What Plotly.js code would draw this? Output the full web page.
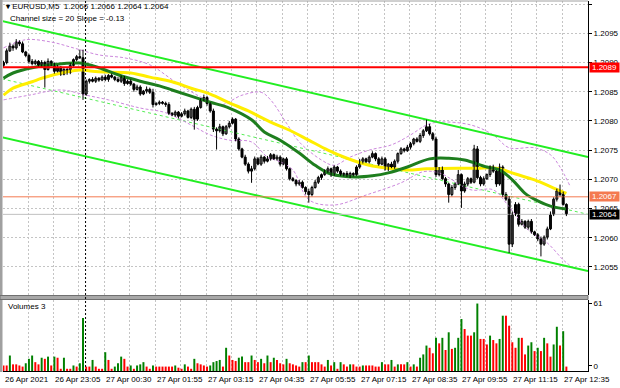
<!DOCTYPE html>
<html><head><meta charset="utf-8">
<script src="https://cdn.plot.ly/plotly-3.0.1.min.js"></script>
<style>html,body{margin:0;padding:0;background:#fff;}#chart{width:620px;height:388px;}</style>
</head><body><div id="chart"></div>
<script>
// ---------- DATA ----------
const firstOpen = 1.20895;
const closes = [
1.20900,1.20920,1.20928,1.20925,1.20935,1.20932,1.20918,1.20912,1.20902,1.20898,
1.20902,1.20895,1.20900,1.20888,1.20902,1.20897,1.20885,1.20892,1.20880,1.20888,
1.20883,1.20895,1.20905,1.20910,1.20908,1.20846,1.20868,1.20871,1.20868,1.20873,
1.20870,1.20875,1.20871,1.20878,1.20875,1.20871,1.20868,1.20875,1.20864,1.20868,
1.20863,1.20854,1.20858,1.20846,1.20851,1.20854,1.20849,1.20828,1.20830,1.20832,
1.20830,1.20828,1.20813,1.20810,1.20815,1.20808,1.20812,1.20817,1.20806,1.20820,
1.20803,1.20823,1.20837,1.20840,1.20830,1.20817,1.20786,1.20783,1.20790,1.20778,
1.20790,1.20796,1.20803,1.20769,1.20752,1.20738,1.20726,1.20714,1.20718,1.20735,
1.20726,1.20738,1.20731,1.20735,1.20742,1.20735,1.20738,1.20726,1.20735,1.20718,
1.20701,1.20698,1.20692,1.20695,1.20686,1.20679,1.20674,1.20686,1.20695,1.20703,
1.20708,1.20714,1.20718,1.20708,1.20721,1.20714,1.20708,1.20710,1.20706,1.20710,
1.20708,1.20721,1.20731,1.20735,1.20730,1.20738,1.20744,1.20735,1.20726,1.20735,
1.20718,1.20726,1.20721,1.20731,1.20744,1.20752,1.20749,1.20755,1.20761,1.20769,
1.20765,1.20775,1.20783,1.20790,1.20778,1.20769,1.20708,1.20718,1.20701,1.20692,
1.20674,1.20686,1.20692,1.20708,1.20680,1.20692,1.20701,1.20695,1.20752,1.20703,
1.20692,1.20701,1.20708,1.20721,1.20714,1.20692,1.20721,1.20674,1.20666,1.20589,
1.20640,1.20657,1.20623,1.20628,1.20618,1.20628,1.20610,1.20605,1.20598,1.20589,
1.20601,1.20615,1.20640,1.20666,1.20680,1.20674,1.20657,1.20640];
// upper / lower wick lengths in points (0.00001)
const wickUp = [
3,4,6,3,5,3,4,2,3,4, 3,2,4,3,5,2,3,4,2,3, 3,4,2,3,12,14,3,2,4,3, 2,3,4,2,3,2,4,3,2,3,
3,2,4,3,2,5,3,6,2,3, 2,3,4,2,3,2,3,4,2,3, 4,3,2,5,3,2,4,3,5,2, 3,4,3,2,3,2,4,3,5,4,
3,4,2,5,3,2,4,3,2,3, 2,3,2,4,3,2,5,3,4,3, 2,3,4,2,3,2,3,2,4,3, 2,3,4,3,2,3,4,2,3,4,
3,2,4,3,2,3,2,4,3,2, 3,4,3,12,5,3,4,3,4,3, 2,4,3,8,2,4,3,2,7,5, 3,4,2,3,4,2,6,3,4,5,
5,4,3,4,2,3,4,2,3,4, 3,4,5,3,4,11,5,2];
const wickDn = [
4,3,2,5,3,4,2,3,4,3, 2,4,3,31,2,3,4,2,3,2, 4,3,2,3,2,10,3,4,2,3, 3,2,3,4,2,3,2,3,4,2,
3,4,2,3,2,4,3,5,2,3, 2,4,3,2,3,4,2,3,2,3, 18,3,2,3,4,3,5,32,3,4, 2,3,2,4,3,2,3,4,20,3,
2,3,4,2,3,2,3,4,2,3, 3,2,4,3,2,5,14,3,2,3, 4,2,3,4,2,3,2,3,2,4, 3,2,3,4,2,3,2,4,3,2,
3,4,2,3,4,2,3,2,4,3, 2,3,4,2,3,3,4,3,2,5, 14,3,4,2,29,3,4,3,2,3, 4,3,2,4,3,5,3,4,3,15,
5,3,4,2,3,4,3,2,4,21, 3,4,2,3,4,3,2,3];
const volumes = [
5,5,14,6,6,5,4,7,11,14, 8,6,12,11,13,5,13,12,2,12, 2,2,5,4,7,48,4,4,10,4,
2,2,17,10,2,4,7,13,11,4, 5,2,5,6,8,4,2,5,4,4, 4,4,4,4,5,3,2,6,4,2,
11,7,6,5,4,5,8,9,10,4, 21,14,10,9,12,13,8,8,14,10, 8,11,7,14,8,12,10,7,6,11,
7,6,5,4,8,8,
14,8,8,8,6,4,10,5,8,2, 8,6,4,6,6,4,4,5,5,5, 5,4,4,8,6,6,10,4,6,6,
6,8,4,6,4,12,15,23,21,16, 30,25,30,19,35,20,21,30,47,38, 32,32,35,61,29,29,24,32,28,25,
29,50,50,41,26,21,30,30,15,23, 26,18,21,18,30,25,13,24,40,23, 36,4];
// moving averages (bar index, price)
const maYellowX = [0,3,9,12,20,24,30,40,46,53,59,65,71,77,84,90,96,102,108,115,121,127,133,143,149,155,161,167,173,177];
const maYellowY = [1.20844,1.20856,1.20867,1.20873,1.20884,1.20887,1.20884,1.20882,1.20875,1.20867,1.20856,1.20846,1.20831,1.20817,1.20798,1.20784,1.20767,1.20750,1.20736,1.20724,1.20719,1.20716,1.20718,1.20719,1.20719,1.20719,1.20709,1.20699,1.20685,1.20676];
const maGreenX = [0,3,9,15,24,30,36,43,49,53,58,65,71,78,82,87,93,98,103,111,116,121,127,134,140,145,152,156,160,164,168,172,177];
const maGreenY = [1.20873,1.20882,1.20891,1.20896,1.20899,1.20891,1.20879,1.20868,1.20860,1.20853,1.20844,1.20832,1.20822,1.20802,1.20781,1.20767,1.20745,1.20724,1.20709,1.20704,1.20706,1.20711,1.20721,1.20735,1.20736,1.20733,1.20721,1.20716,1.20699,1.20676,1.20663,1.20654,1.20649];
// envelope bands
const bandUpX = [0,7,15,22,30,38,46,54,62,68,75,81,84,89,93,100,104,109,115,122,128,133,137,147,154,159,167,172,175,178];
const bandUpY = [1.20925,1.20939,1.20935,1.20925,1.20913,1.20908,1.20896,1.20867,1.20841,1.20827,1.20844,1.20849,1.20836,1.20796,1.20764,1.20733,1.20724,1.20738,1.20750,1.20759,1.20776,1.20793,1.20798,1.20793,1.20776,1.20754,1.20754,1.20742,1.20721,1.20690];
const bandDnX = [0,8,18,26,33,43,51,59,65,71,78,83,87,91,96,104,114,125,132,137,147,154,159,165,171,176,178];
const bandDnY = [1.20836,1.20844,1.20853,1.20844,1.20836,1.20822,1.20814,1.20793,1.20776,1.20767,1.20764,1.20738,1.20730,1.20716,1.20665,1.20656,1.20673,1.20694,1.20713,1.20711,1.20682,1.20682,1.20653,1.20613,1.20591,1.20562,1.20553];
// regression channel endpoints
const channelX = [-0.5, 183.8];
const channelUp = [1.20971, 1.20738];
const channelMid = [1.20872, 1.20640];
const channelDn = [1.20772, 1.20543];
// horizontal levels
const levelRed = 1.20892, levelRedText = '1.2089';
const levelOrange = 1.2067, levelOrangeText = '1.2067';
const levelBid = 1.2064, levelBidText = '1.2064';
const daySeparator = 25.8;
const priceTicks = [1.2055,1.2060,1.2065,1.2070,1.2075,1.2080,1.2085,1.2090,1.2095,1.2100];
const volTickVals = [4.6, 61], volTickText = ['0','61'];
const timeLabels = ['26 Apr 2021','26 Apr 23:05','27 Apr 00:30','27 Apr 01:55','27 Apr 03:15','27 Apr 04:35','27 Apr 05:55','27 Apr 07:15','27 Apr 08:35','27 Apr 09:55','27 Apr 11:15','27 Apr 12:35'];
const timeLabelIdx = [-0.1,15.7,31.7,47.7,63.7,79.7,95.7,111.7,127.7,143.7,159.7,175.7];
const gridIdx = [7.7,15.7,23.7,31.7,39.7,47.7,55.7,63.7,71.7,79.7,87.7,95.7,103.7,111.7,119.7,127.7,135.7,143.7,151.7,159.7,167.7,175.7,183.7];
const titleText = '<b>▾</b> EURUSD,M5  1.2066 1.2066 1.2064 1.2064';
const subText = 'Channel size = 20 Slope = -0.13';
const volTitle = 'Volumes 3';

// ---------- BUILD ----------
const N = closes.length;
const idx = [], opens = [], highs = [], lows = [], vcol = [];
const bodyBase = [], bodyH = [], bodyFill = [];
const wx = [], wy = [];
for (let i = 0; i < N; i++) {
  idx.push(i);
  const o = i === 0 ? firstOpen : closes[i-1];
  const c = closes[i];
  opens.push(o);
  const hi = Math.max(o, c) + wickUp[i]*1e-5, lo = Math.min(o, c) - wickDn[i]*1e-5;
  highs.push(hi); lows.push(lo);
  bodyBase.push(Math.min(o, c));
  bodyH.push(Math.max(Math.abs(c - o), 0.000004));
  bodyFill.push(c >= o ? '#FFFFFF' : '#000000');
  wx.push(i, i, null); wy.push(lo, hi, null);
  vcol.push(i > 0 && volumes[i] > volumes[i-1] ? '#008000' : '#FF0000');
}
const XR = [-0.16, 183.8];
const PT = 1, PB = 371, PH = PB - PT, PL = 3, PR = 588, PW = PR - PL;
const py = p => (PB - p) / PH;
const px = p => (p - PL) / PW;
const font = {family: 'Liberation Sans, Arial, sans-serif', size: 8, color: '#000'};

const traces = [
  {type:'scatter', mode:'lines', x: channelX, y: channelMid, line:{color:'#55EE55', width:1, dash:'3px,3px'}, hoverinfo:'skip'},
  {type:'scatter', mode:'lines', x: bandUpX, y: bandUpY, line:{color:'#CC88DD', width:1, dash:'3px,2px', shape:'spline'}, hoverinfo:'skip'},
  {type:'scatter', mode:'lines', x: bandDnX, y: bandDnY, line:{color:'#CC88DD', width:1, dash:'3px,2px', shape:'spline'}, hoverinfo:'skip'},
  {type:'scatter', mode:'lines', x: channelX, y: channelUp, line:{color:'#22EE22', width:2}, hoverinfo:'skip'},
  {type:'scatter', mode:'lines', x: channelX, y: channelDn, line:{color:'#22EE22', width:2}, hoverinfo:'skip'},
  {type:'scatter', mode:'lines', x: maYellowX, y: maYellowY, line:{color:'#FFEE00', width:3, shape:'spline'}, hoverinfo:'skip'},
  {type:'scatter', mode:'lines', x: maGreenX, y: maGreenY, line:{color:'#1E7E1E', width:3, shape:'spline'}, hoverinfo:'skip'},
  {type:'scatter', mode:'lines', x: XR, y: [levelBid, levelBid], line:{color:'#C0C0C0', width:1}, hoverinfo:'skip'},
  {type:'scatter', mode:'lines', x: XR, y: [levelOrange, levelOrange], line:{color:'#F47A50', width:1}, hoverinfo:'skip'},
  {type:'scatter', mode:'lines', x: wx, y: wy, line:{color:'#000', width:1}, connectgaps:false, hoverinfo:'skip'},
  {type:'bar', x: idx, y: bodyH, base: bodyBase, width: 0.62, marker:{color: bodyFill, line:{color:'#000', width:1}}, hoverinfo:'skip'},
  {type:'scatter', mode:'lines', x: XR, y: [levelRed, levelRed], line:{color:'#FF0000', width:2}, hoverinfo:'skip'},
  {type:'bar', x: idx, y: volumes, width: 0.62, marker:{color: vcol, line:{width:0}}, xaxis:'x2', yaxis:'y2', hoverinfo:'skip'}
];

const annotations = [
  {xref:'paper', yref:'paper', x: px(3), y: py(7), xanchor:'left', yanchor:'middle', text: titleText, showarrow:false, font},
  {xref:'paper', yref:'paper', x: px(8), y: py(18.5), xanchor:'left', yanchor:'middle', text: subText, showarrow:false, font},
  {xref:'paper', yref:'paper', x: px(6), y: py(306), xanchor:'left', yanchor:'middle', text: volTitle, showarrow:false, font},
  {xref:'paper', yref:'y', x: 1.0 + 1/PW, y: levelRed, xanchor:'left', yanchor:'middle', text: levelRedText, showarrow:false, bgcolor:'#FF0000', borderpad:0, font:{...font, color:'#fff'}, width:29, height:9},
  {xref:'paper', yref:'y', x: 1.0 + 1/PW, y: levelOrange, xanchor:'left', yanchor:'middle', text: levelOrangeText, showarrow:false, bgcolor:'#F47A50', borderpad:0, font:{...font, color:'#fff'}, width:29, height:9},
  {xref:'paper', yref:'y', x: 1.0 + 1/PW, y: levelBid, xanchor:'left', yanchor:'middle', text: levelBidText, showarrow:false, bgcolor:'#000000', borderpad:0, font:{...font, color:'#fff'}, width:29, height:9}
];
timeLabels.forEach((t, k) => annotations.push({xref:'x2', yref:'paper', x: timeLabelIdx[k], y: py(379), xanchor:'left', yanchor:'middle', text: t, showarrow:false, font}));

const shapes = [
  {type:'rect', xref:'paper', yref:'paper', x0: px(0), x1: px(2.5), y0: py(372), y1: py(0), fillcolor:'#A0A0A0', line:{width:0}, layer:'above'},
  {type:'line', xref:'paper', yref:'paper', x0: px(0), x1: px(PR), y0: py(1), y1: py(1), line:{color:'#A0A0A0', width:1}},
  {type:'rect', xref:'paper', yref:'paper', x0: px(0), x1: 1, y0: py(299.5), y1: py(295.5), fillcolor:'#A8A8A8', line:{color:'#707070', width:1}, layer:'above'},
  {type:'line', xref:'x', yref:'paper', x0: daySeparator, x1: daySeparator, y0: py(371), y1: py(1), line:{color:'#000', width:1, dash:'2px,2px'}, layer:'above'}
];

const gridStyle = {showgrid:true, gridcolor:'#C4C4C4', gridwidth:1, griddash:'2px,2px', zeroline:false};
const layout = {
  width:620, height:388, margin:{l:PL, r:620-PR, t:PT, b:388-PB},
  paper_bgcolor:'#FFFFFF', plot_bgcolor:'#FFFFFF', showlegend:false, font,
  xaxis:{...gridStyle, domain:[0,1], anchor:'y', range: XR, tickvals: gridIdx, showticklabels:false, ticks:'', fixedrange:true},
  yaxis:{...gridStyle, domain:[py(295), 1], anchor:'x', side:'right', range:[1.205019, 1.210053], tickvals: priceTicks, tickformat:'.4f', ticks:'outside', ticklen:3, tickcolor:'#000', showline:true, linecolor:'#000', linewidth:1, tickfont: font, fixedrange:true},
  xaxis2:{...gridStyle, domain:[0,1], anchor:'y2', range: XR, tickvals: gridIdx, showticklabels:false, ticks:'', showline:true, linecolor:'#000', linewidth:1, fixedrange:true},
  yaxis2:{showgrid:false, zeroline:false, domain:[0, py(300)], anchor:'x2', side:'right', range:[0, 64.2], tickvals: volTickVals, ticktext: volTickText, ticks:'outside', ticklen:3, tickcolor:'#000', showline:true, linecolor:'#000', linewidth:1, tickfont: font, fixedrange:true},
  barmode:'overlay',
  annotations, shapes
};
Plotly.newPlot('chart', traces, layout, {displayModeBar:false, staticPlot:true});
</script></body></html>
